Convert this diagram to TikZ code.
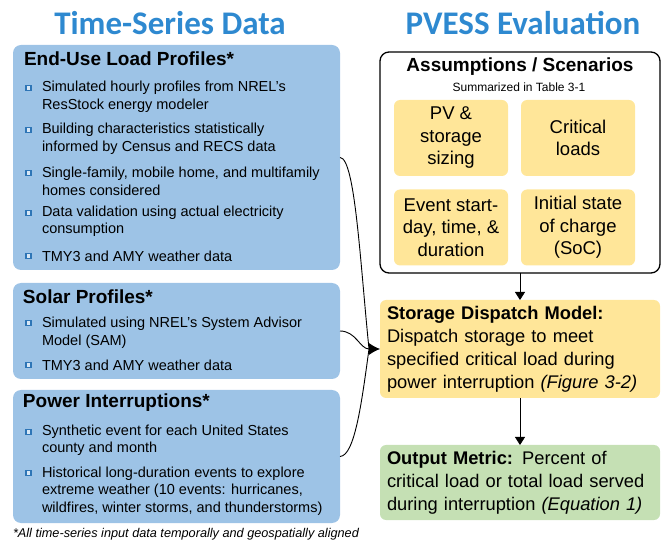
\documentclass[tikz,border=0pt]{standalone}
\usepackage{fontspec}
\setmainfont{Liberation Sans}
\newfontfamily\titlefont{Carlito}
\usetikzlibrary{arrows.meta,positioning}
\definecolor{tsblue}{RGB}{46,137,208}
\definecolor{boxblue}{RGB}{157,195,230}
\definecolor{bulblue}{RGB}{46,117,182}
\definecolor{boxgold}{RGB}{255,230,153}
\definecolor{boxgreen}{RGB}{197,224,180}
\newcommand{\bodysz}{\fontsize{14.5}{17.5}\selectfont}
\newcommand{\headsz}{\fontsize{19}{22}\selectfont\bfseries}
\newcommand{\rightsz}{\fontsize{18.3}{23}\selectfont}
\newcommand{\bigtitle}{\titlefont\fontsize{33}{35}\selectfont\bfseries}

\begin{document}
\begin{tikzpicture}[x=1pt,y=-1pt,>=Latex,
  every node/.style={inner sep=0pt,outer sep=0pt},
  bluebox/.style={fill=boxblue,rounded corners=8pt,anchor=north west,minimum width=327pt},
  goldbox/.style={fill=boxgold,rounded corners=6pt,minimum width=114pt,minimum height=76pt,align=center,font=\fontsize{18.5}{22.5}\selectfont},
  widebox/.style={rounded corners=6pt,anchor=north west,minimum width=280pt,text width=266pt,align=left,font=\rightsz},
  heading/.style={anchor=west,font=\headsz},
  item/.style={anchor=west,align=left,font=\bodysz},
  sqbullet/.style={draw=bulblue,fill=boxblue!40!white,line width=1.2pt,minimum size=5pt},
  flowarrow/.style={-{Triangle[width=10pt,length=8pt]},line width=0.8pt}]
\useasboundingbox (0,0) rectangle (665,540);
% titles
\node[font=\bigtitle,text=tsblue,anchor=base] (tstitle) at (170,35) {Time-Series Data};
\node[font=\bigtitle,text=tsblue,anchor=base] (pvtitle) at (523,35) {PVESS Evaluation};
% time-series boxes
\node[bluebox,minimum height=225pt] (eulp) at (13,45) {};
\node[bluebox,minimum height=96pt] (solar) at (13,283) {};
\node[bluebox,minimum height=133pt] (outage) at (13,390) {};
\node[heading] (eulph) at (24,59) {End-Use Load Profiles*};
\node[heading] (solarh) at (23,297) {Solar Profiles*};
\node[heading] (outageh) at (23,403) {Power Interruptions*};
\node[item] (eu1) at (42,97) {Simulated hourly profiles from NREL’s\\ResStock energy modeler};
\node[item] (eu2) at (42,139) {Building characteristics statistically\\informed by Census and RECS data};
\node[item] (eu3) at (42,181.5) {Single-family, mobile home, and multifamily\\homes considered};
\node[item] (eu4) at (42,221.5) {Data validation using actual electricity\\consumption};
\node[item] (eu5) at (42,256) {TMY3 and AMY weather data};
\node[item] (so1) at (42,332.5) {Simulated using NREL’s System Advisor\\Model (SAM)};
\node[item] (so2) at (42,365) {TMY3 and AMY weather data};
\node[item] (pi1) at (42,440.5) {Synthetic event for each United States\\county and month};
\node[item] (pi2) at (42,491) {Historical long-duration events to explore\\extreme weather (10 events: hurricanes,\\wildfires, winter storms, and thunderstorms)};
\foreach \n/\y in {1/88,2/130,3/173,4/213,5/256,6/323,7/365,8/432,9/473}
  \node[sqbullet] (bul\n) at (28.5,\y) {};
\node[anchor=west,font=\fontsize{12.7}{14}\selectfont\itshape] (fnote) at (13,534) {*All time-series input data temporally and geospatially aligned};
% evaluation side
\node[draw,line width=1.3pt,rounded corners=9pt,minimum width=280pt,minimum height=221pt,anchor=north west] (asm) at (380,52) {};
\node[font=\headsz] (asmh) at (520,67) {Assumptions / Scenarios};
\node[font=\fontsize{12}{14}\selectfont] (asms) at (519,87) {Summarized in Table 3-1};
\node[goldbox] (pvsize) at (451,138) {PV \&\\storage\\sizing};
\node[goldbox] (critld) at (578,138) {Critical\\loads};
\node[goldbox] (evtime) at (451,227.5) {Event start-\\day, time, \&\\duration};
\node[goldbox] (initsoc) at (578,227.5) {Initial state\\of charge\\(SoC)};
\node[widebox,fill=boxgold,minimum height=98pt] (sdm) at (380,300) {\textbf{Storage Dispatch Model:}\\Dispatch storage to meet\\specified critical load during\\power interruption \textit{(Figure 3-2)}};
\node[widebox,fill=boxgreen,minimum height=75pt] (outm) at (380,445) {\textbf{Output Metric:} Percent of\\critical load or total load served\\during interruption \textit{(Equation 1)}};
\draw[flowarrow] (asm.south) -- (sdm.north);
\draw[flowarrow] (sdm.south) -- (outm.north);
% inputs merging into the dispatch model
\coordinate (mrg) at (369,349);
\draw[line width=0.9pt] (eulp.east) .. controls (355,158) and (360,260) .. (mrg);
\draw[line width=0.9pt] (solar.east) .. controls (356,331) and (360,349) .. (mrg);
\draw[line width=0.9pt] (outage.east) .. controls (355,456) and (362,400) .. (mrg);
\draw[-{Latex[length=11pt,width=12pt]},line width=0.9pt] (mrg) -- (sdm.west);
\end{tikzpicture}
\end{document}
